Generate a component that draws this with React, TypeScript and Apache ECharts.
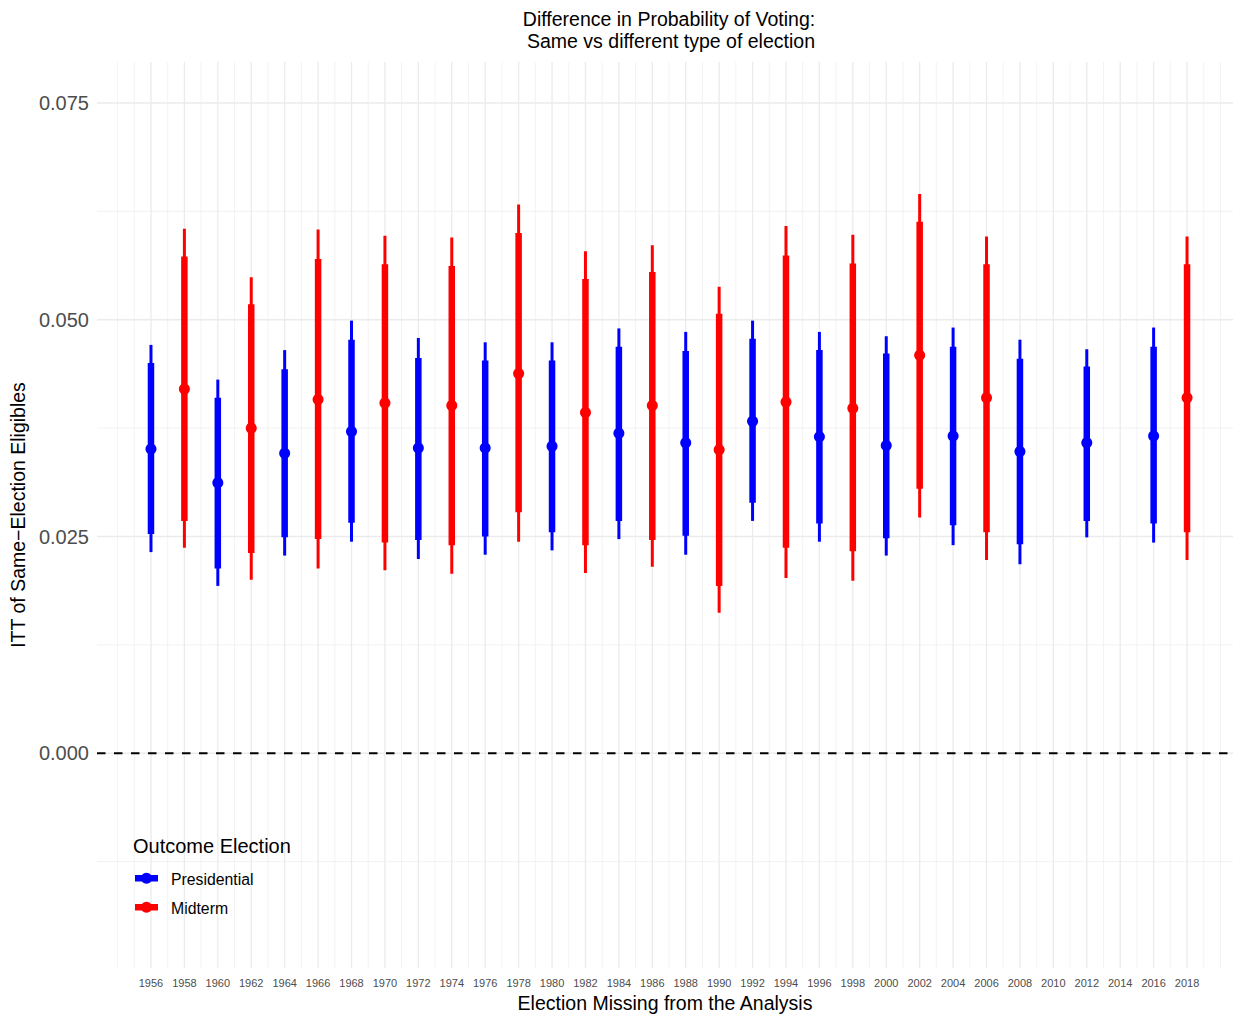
import React, { useEffect, useRef } from "react";
import * as echarts from "echarts";

// ---------- data ----------
const presYears = [1956, 1960, 1964, 1968, 1972, 1976, 1980, 1984, 1988, 1992, 1996, 2000, 2004, 2008, 2012, 2016];
const presEst = [0.0351, 0.0312, 0.0346, 0.0371, 0.0352, 0.0352, 0.0354, 0.0369, 0.0358, 0.0383, 0.0365, 0.0355, 0.0366, 0.0348, 0.0358, 0.0366];
const presInnerLo = [0.0253, 0.0213, 0.0249, 0.0266, 0.0246, 0.025, 0.0255, 0.0268, 0.0251, 0.0289, 0.0265, 0.0248, 0.0263, 0.0241, 0.0268, 0.0265];
const presInnerHi = [0.045, 0.041, 0.0443, 0.0477, 0.0456, 0.0453, 0.0453, 0.0469, 0.0464, 0.0478, 0.0465, 0.0461, 0.0469, 0.0455, 0.0446, 0.0469];
const presOuterLo = [0.0232, 0.0193, 0.0228, 0.0244, 0.0224, 0.0229, 0.0234, 0.0247, 0.0229, 0.0268, 0.0244, 0.0228, 0.024, 0.0218, 0.0249, 0.0243];
const presOuterHi = [0.0471, 0.0431, 0.0465, 0.0499, 0.0479, 0.0474, 0.0474, 0.049, 0.0486, 0.0499, 0.0486, 0.0481, 0.0491, 0.0477, 0.0466, 0.0491];

const midYears = [1958, 1962, 1966, 1970, 1974, 1978, 1982, 1986, 1990, 1994, 1998, 2002, 2006, 2018];
const midEst = [0.042, 0.0375, 0.0408, 0.0404, 0.0401, 0.0438, 0.0393, 0.0401, 0.035, 0.0405, 0.0398, 0.0459, 0.041, 0.041];
const midInnerLo = [0.0268, 0.0231, 0.0247, 0.0243, 0.024, 0.0278, 0.024, 0.0246, 0.0193, 0.0237, 0.0233, 0.0305, 0.0255, 0.0255];
const midInnerHi = [0.0573, 0.0518, 0.057, 0.0564, 0.0562, 0.06, 0.0547, 0.0555, 0.0507, 0.0574, 0.0565, 0.0613, 0.0564, 0.0564];
const midOuterLo = [0.0237, 0.02, 0.0213, 0.0211, 0.0207, 0.0244, 0.0208, 0.0215, 0.0162, 0.0202, 0.0199, 0.0272, 0.0223, 0.0223];
const midOuterHi = [0.0605, 0.0549, 0.0604, 0.0597, 0.0595, 0.0633, 0.0579, 0.0586, 0.0538, 0.0608, 0.0598, 0.0645, 0.0596, 0.0596];

const xBreaks = [1956, 1958, 1960, 1962, 1964, 1966, 1968, 1970, 1972, 1974, 1976, 1978, 1980, 1982, 1984, 1986, 1988, 1990, 1992, 1994, 1996, 1998, 2000, 2002, 2004, 2006, 2008, 2010, 2012, 2014, 2016, 2018];
const xMinorBreaks = [1954, 1955, 1957, 1959, 1961, 1963, 1965, 1967, 1969, 1971, 1973, 1975, 1977, 1979, 1981, 1983, 1985, 1987, 1989, 1991, 1993, 1995, 1997, 1999, 2001, 2003, 2005, 2007, 2009, 2011, 2013, 2015, 2017, 2019, 2020];
const yBreaks = [0, 0.025, 0.05, 0.075];
const yMinorBreaks = [-0.0125, 0.0125, 0.0375, 0.0625];

const X_MIN = 1952.77;
const X_MAX = 2020.75;
const Y_MIN = -0.02477;
const Y_MAX = 0.07973;

const FONT = "'Liberation Sans', Arial, Helvetica, sans-serif";
const BLUE = "#0000FF";
const RED = "#FF0000";
const GRID = "#EBEBEB";

function buildRows(years: number[], est: number[], ilo: number[], ihi: number[], olo: number[], ohi: number[]) {
  return years.map((y, i) => [y, est[i], ilo[i], ihi[i], olo[i], ohi[i]]);
}

function rangeRenderer(color: string) {
  return (params: any, api: any) => {
    const x = api.value(0);
    const pEst = api.coord([x, api.value(1)]);
    const pIlo = api.coord([x, api.value(2)]);
    const pIhi = api.coord([x, api.value(3)]);
    const pOlo = api.coord([x, api.value(4)]);
    const pOhi = api.coord([x, api.value(5)]);
    return {
      type: "group",
      children: [
        {
          type: "line",
          shape: { x1: pOlo[0], y1: pOlo[1], x2: pOhi[0], y2: pOhi[1] },
          style: { stroke: color, lineWidth: 3, lineCap: "butt" },
        },
        {
          type: "line",
          shape: { x1: pIlo[0], y1: pIlo[1], x2: pIhi[0], y2: pIhi[1] },
          style: { stroke: color, lineWidth: 6.5, lineCap: "butt" },
        },
        {
          type: "circle",
          shape: { cx: pEst[0], cy: pEst[1], r: 5.5 },
          style: { fill: color },
        },
      ],
    };
  };
}

function vGridRenderer(width: number) {
  return (params: any, api: any) => {
    const cs = params.coordSys;
    const p = api.coord([api.value(0), 0]);
    return {
      type: "line",
      shape: { x1: p[0], y1: cs.y, x2: p[0], y2: cs.y + cs.height },
      style: { stroke: GRID, lineWidth: width },
      silent: true,
    };
  };
}

function hGridRenderer(width: number, stroke: string, dash?: number[]) {
  return (params: any, api: any) => {
    const cs = params.coordSys;
    const p = api.coord([X_MIN, api.value(0)]);
    return {
      type: "line",
      shape: { x1: cs.x, y1: p[1], x2: cs.x + cs.width, y2: p[1] },
      style: { stroke, lineWidth: width, lineDash: dash },
      silent: true,
    };
  };
}

export default function App() {
  const ref = useRef<HTMLDivElement>(null);

  useEffect(() => {
    if (!ref.current) return;
    const chart = echarts.init(ref.current, null, { renderer: "svg" });

    const presRows = buildRows(presYears, presEst, presInnerLo, presInnerHi, presOuterLo, presOuterHi);
    const midRows = buildRows(midYears, midEst, midInnerLo, midInnerHi, midOuterLo, midOuterHi);

    const gridSeries = (name: string, values: number[], renderItem: any, z: number) => ({
      type: "custom",
      name,
      silent: true,
      z,
      renderItem,
      data: values.map((v) => [v]),
      encode: name.startsWith("v") ? { x: 0 } : { y: 0 },
    });

    chart.setOption({
      animation: false,
      backgroundColor: "#FFFFFF",
      textStyle: { fontFamily: FONT },
      grid: { left: 97, top: 62, width: 1136, height: 906, containLabel: false, outerBoundsMode: "none" },
      xAxis: {
        type: "value",
        min: X_MIN,
        max: X_MAX,
        name: "Election Missing from the Analysis",
        nameLocation: "middle",
        nameGap: 24,
        nameTextStyle: { fontSize: 19.5, color: "#000000", fontFamily: FONT },
        axisLine: { show: false },
        axisTick: { show: false },
        splitLine: { show: false },
        axisLabel: {
          customValues: xBreaks,
          formatter: (v: number) => String(Math.round(v)),
          fontSize: 11,
          color: "#4D4D4D",
          margin: 9,
          fontFamily: FONT,
          showMinLabel: true,
          showMaxLabel: true,
        },
      },
      yAxis: {
        type: "value",
        min: Y_MIN,
        max: Y_MAX,
        name: "ITT of Same\u2212Election Eligibles",
        nameLocation: "middle",
        nameRotate: 90,
        nameGap: 65,
        nameTextStyle: { fontSize: 19.5, color: "#000000", fontFamily: FONT },
        axisLine: { show: false },
        axisTick: { show: false },
        splitLine: { show: false },
        axisLabel: {
          customValues: yBreaks,
          formatter: (v: number) => v.toFixed(3),
          fontSize: 20,
          color: "#4D4D4D",
          margin: 8,
          fontFamily: FONT,
        },
      },
      series: [
        gridSeries("vminor", xMinorBreaks, vGridRenderer(0.6), 1),
        gridSeries("vmajor", xBreaks, vGridRenderer(1.3), 1),
        gridSeries("hminor", yMinorBreaks, hGridRenderer(0.7, GRID), 1),
        gridSeries("hmajor", yBreaks, hGridRenderer(1.5, GRID), 1),
        gridSeries("hzero", [0], hGridRenderer(2, "#000000", [8.5, 8.5]), 2),
        {
          type: "custom",
          name: "Presidential",
          z: 3,
          renderItem: rangeRenderer(BLUE),
          encode: { x: 0, y: [1, 2, 3, 4, 5] },
          data: presRows,
        },
        {
          type: "custom",
          name: "Midterm",
          z: 3,
          renderItem: rangeRenderer(RED),
          encode: { x: 0, y: [1, 2, 3, 4, 5] },
          data: midRows,
        },
      ],
      graphic: [
        {
          type: "text",
          style: {
            text: "Difference in Probability of Voting:",
            x: 669,
            y: 19,
            textAlign: "center",
            textVerticalAlign: "middle",
            fontSize: 19.5,
            fontFamily: FONT,
            fill: "#000000",
          },
        },
        {
          type: "text",
          style: {
            text: "Same vs different type of election",
            x: 671,
            y: 41,
            textAlign: "center",
            textVerticalAlign: "middle",
            fontSize: 19.5,
            fontFamily: FONT,
            fill: "#000000",
          },
        },
        {
          type: "text",
          z: 10,
          style: {
            text: "Outcome Election",
            x: 133,
            y: 846,
            textAlign: "left",
            textVerticalAlign: "middle",
            fontSize: 20,
            fontFamily: FONT,
            fill: "#000000",
          },
        },
        {
          type: "rect",
          z: 10,
          shape: { x: 135, y: 875, width: 23, height: 6.5 },
          style: { fill: BLUE },
        },
        {
          type: "circle",
          z: 10,
          shape: { cx: 146.5, cy: 878.2, r: 5.5 },
          style: { fill: BLUE },
        },
        {
          type: "text",
          z: 10,
          style: {
            text: "Presidential",
            x: 171,
            y: 879,
            textAlign: "left",
            textVerticalAlign: "middle",
            fontSize: 15.8,
            fontFamily: FONT,
            fill: "#000000",
          },
        },
        {
          type: "rect",
          z: 10,
          shape: { x: 135, y: 904, width: 23, height: 6.5 },
          style: { fill: RED },
        },
        {
          type: "circle",
          z: 10,
          shape: { cx: 146.5, cy: 907.2, r: 5.5 },
          style: { fill: RED },
        },
        {
          type: "text",
          z: 10,
          style: {
            text: "Midterm",
            x: 171,
            y: 908,
            textAlign: "left",
            textVerticalAlign: "middle",
            fontSize: 15.8,
            fontFamily: FONT,
            fill: "#000000",
          },
        },
      ],
    });

    return () => {
      chart.dispose();
    };
  }, []);

  return (
    <div
      ref={ref}
      style={{ position: "fixed", left: 0, top: 0, width: 1233, height: 1014, background: "#FFFFFF" }}
    />
  );
}
